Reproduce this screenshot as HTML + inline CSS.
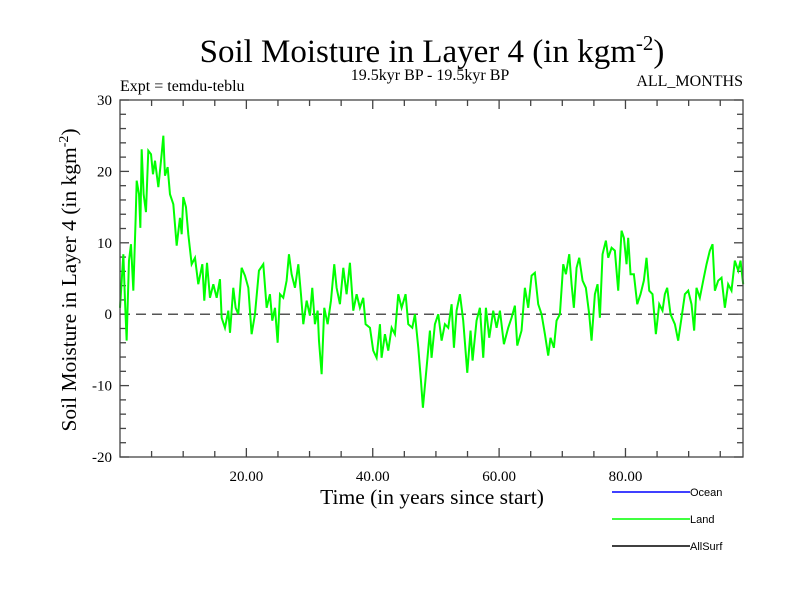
<!DOCTYPE html>
<html><head><meta charset="utf-8"><style>
body{margin:0;background:#fff}
svg text{font-family:"Liberation Serif",serif}
svg text.sans{font-family:"Liberation Sans",sans-serif}
</style></head><body>
<svg width="800" height="600" xmlns="http://www.w3.org/2000/svg">
<rect width="800" height="600" fill="#fff"/>
<text x="432" y="62" font-size="33" text-anchor="middle">Soil Moisture in Layer 4 (in kgm<tspan dy="-12" font-size="21">-2</tspan><tspan dy="12">)</tspan></text>
<text x="120" y="91" font-size="16">Expt = temdu-teblu</text>
<text x="430" y="80" font-size="16" text-anchor="middle">19.5kyr BP - 19.5kyr BP</text>
<text x="743" y="86" font-size="16" text-anchor="end">ALL_MONTHS</text>
<g id="axes"></g>
<polyline id="zero" fill="none" stroke="#555" stroke-width="1.5" stroke-dasharray="10,6"/>
<polyline id="land" fill="none" stroke="#00ff00" stroke-width="2"/>
<rect x="120" y="100" width="623" height="357" fill="none" stroke="#444" stroke-width="1.3"/>
<text x="432" y="504" font-size="21.5" text-anchor="middle">Time (in years since start)</text>
<text transform="translate(76,280) rotate(-90)" font-size="21.5" text-anchor="middle">Soil Moisture in Layer 4 (in kgm<tspan dy="-8" font-size="14">-2</tspan><tspan dy="8">)</tspan></text>
<g>
<line x1="612" y1="492" x2="690" y2="492" stroke="#0000ff" stroke-width="1.5"/>
<text class="sans" x="690" y="496" font-size="11">Ocean</text>
<line x1="612" y1="519" x2="690" y2="519" stroke="#00ff00" stroke-width="1.5"/>
<text class="sans" x="690" y="523" font-size="11">Land</text>
<line x1="612" y1="546" x2="690" y2="546" stroke="#000" stroke-width="1.5"/>
<text class="sans" x="690" y="550" font-size="11">AllSurf</text>
</g>
</svg>
<script>
const years=[0,0.53,0.79,1.05,1.42,1.74,2.11,2.48,2.64,3.01,3.22,3.43,3.74,4.11,4.48,4.91,5.22,5.54,6.07,6.59,6.86,7.12,7.54,7.91,8.44,8.97,9.49,9.76,10.02,10.44,10.81,11.34,11.87,12.39,13.03,13.34,13.77,14.24,14.77,15.30,15.82,16.09,16.61,17.14,17.41,17.93,18.30,18.72,19.25,19.78,20.31,20.83,21.36,21.99,22.68,23.21,23.73,24.10,24.53,24.95,25.32,25.84,26.37,26.74,27.16,27.69,28.22,28.64,29.01,29.54,30.06,30.43,30.85,31.28,31.49,31.91,32.33,32.86,33.39,33.91,34.28,34.81,35.34,35.86,36.39,36.92,37.45,37.97,38.50,38.87,39.56,40.08,40.61,41.14,41.40,41.93,42.46,42.99,43.51,44.04,44.57,45.20,45.62,46.26,46.68,47.21,47.63,47.94,48.52,49.05,49.31,49.84,50.37,50.90,51.42,51.95,52.48,52.85,53.27,53.80,54.32,54.96,55.48,55.80,56.43,56.96,57.49,57.91,58.44,59.07,59.60,60.13,60.76,61.44,61.97,62.50,62.87,63.55,64.08,64.61,65.14,65.66,66.19,66.72,67.25,67.77,68.14,68.67,69.09,69.62,70.15,70.57,71.10,71.47,71.83,72.26,72.68,73.21,73.73,74.26,74.63,75.16,75.58,75.95,76.37,76.90,77.27,77.80,78.32,78.85,79.38,79.75,80.17,80.43,80.80,81.33,81.86,82.38,82.91,83.33,83.76,84.28,84.81,85.34,85.86,86.23,86.60,87.13,87.82,88.34,88.87,89.40,89.93,90.45,90.87,91.24,91.77,92.30,92.83,93.35,93.78,94.15,94.67,95.20,95.73,96.25,96.78,97.31,97.84,98.21,98.63];
const landValues=[0.9,8.4,1.9,-3.7,7.5,9.8,3.3,13.5,18.7,16.8,12.1,23.1,16.8,14.3,22.9,22.4,19.6,21.5,17.8,22.4,25,19.4,20.6,16.8,15.4,9.6,13.5,11.2,16.4,15,11.2,7,7.9,4.2,7,1.9,7.2,2.3,4.2,2.3,4.9,-0.5,-1.9,0.5,-2.6,3.7,0.9,0,6.5,5.4,3.7,-2.8,0,6.1,7,0.9,2.8,-0.9,0.9,-4,2.8,2.3,4.7,8.4,5.6,3.7,7,2.8,-1.4,1.9,-0.2,3.7,-1.4,0.5,-3.7,-8.4,0.9,-1.4,1.9,7,3.7,1.4,6.5,2.8,7.2,0.5,2.8,0.9,2.3,-1.4,-1.9,-5.1,-6.1,-1.4,-6.1,-2.8,-5.1,-1.9,-2.8,2.8,0.9,2.8,-1.4,-1.9,0,-4.7,-9.3,-13.1,-7.5,-2.3,-6.1,-1.4,0,-3.7,-1.4,-1.9,1.4,-4.7,0.5,2.8,-0.9,-8.2,-2.3,-6.5,-0.9,0.9,-6.1,0.9,-3.3,0.5,-1.9,0.5,-4.2,-1.9,-0.5,1.2,-4.4,-2.3,3.7,0.9,5.4,5.8,1.4,0,-2.8,-5.8,-3.3,-4.7,-0.9,0,7,5.6,8.4,4.2,0.9,6.5,7.9,4.7,3.7,0,-3.7,2.8,4.2,-0.5,8.4,10.3,7.9,9.3,8.9,3.3,11.7,10.7,7,10.7,5.6,5.6,1.4,2.8,4.7,7.9,3.3,2.8,-2.8,1.4,0.5,2.8,3.7,0,-1.4,-3.7,-0.5,2.8,3.3,1.4,-2.3,3.7,2.3,4.7,7,8.9,9.8,3.3,4.7,5.1,0.9,4.2,3.3,7.5,6.1,7.5,4.2];
const yTickLabels=[30,20,10,0,-10,-20];
const xTickLabels=[20,40,60,80];
const X0=120,X1=743,Y0=100,Y1=457,XMIN=0,XMAX=98.6,YMIN=-20,YMAX=30;
const sx=v=>X0+(v-XMIN)/(XMAX-XMIN)*(X1-X0);
const sy=v=>Y1-(v-YMIN)/(YMAX-YMIN)*(Y1-Y0);
const NS="http://www.w3.org/2000/svg";
const axes=document.getElementById('axes');
function mk(tag,attrs){const e=document.createElementNS(NS,tag);for(const k in attrs)e.setAttribute(k,attrs[k]);axes.appendChild(e);return e;}
for(let v=YMIN;v<=YMAX;v+=2){const y=sy(v);const L=(v%10===0)?9:6;
 const a=mk('line',{x1:X0,x2:X0+L,y1:y,y2:y,stroke:'#444','stroke-width':1.3});
 
 
 const b=mk('line',{x1:X1,x2:X1-L,y1:y,y2:y,stroke:'#444','stroke-width':1.3});
 
 }
for(let v=5;v<XMAX;v+=5){const x=sx(v);const L=(v%20===0)?9:6;
 const a=mk('line',{x1:x,x2:x,y1:Y1,y2:Y1-L,stroke:'#444','stroke-width':1.3});
 
 
 const b=mk('line',{x1:x,x2:x,y1:Y0,y2:Y0+L,stroke:'#444','stroke-width':1.3});
 
 }
yTickLabels.forEach(v=>{const t=mk('text',{x:X0-8,y:sy(v)+5,'font-size':15,'text-anchor':'end'});t.textContent=v;
 
 });
xTickLabels.forEach(v=>{const t=mk('text',{x:sx(v),y:481,'font-size':15,'text-anchor':'middle'});t.textContent=v.toFixed(2);
 
 });
document.getElementById('zero').setAttribute('points',`${X0},${sy(0)} ${X1},${sy(0)}`);
document.getElementById('land').setAttribute('points',years.map((t,i)=>sx(t)+','+sy(landValues[i])).join(' '));
</script>
</body></html>
